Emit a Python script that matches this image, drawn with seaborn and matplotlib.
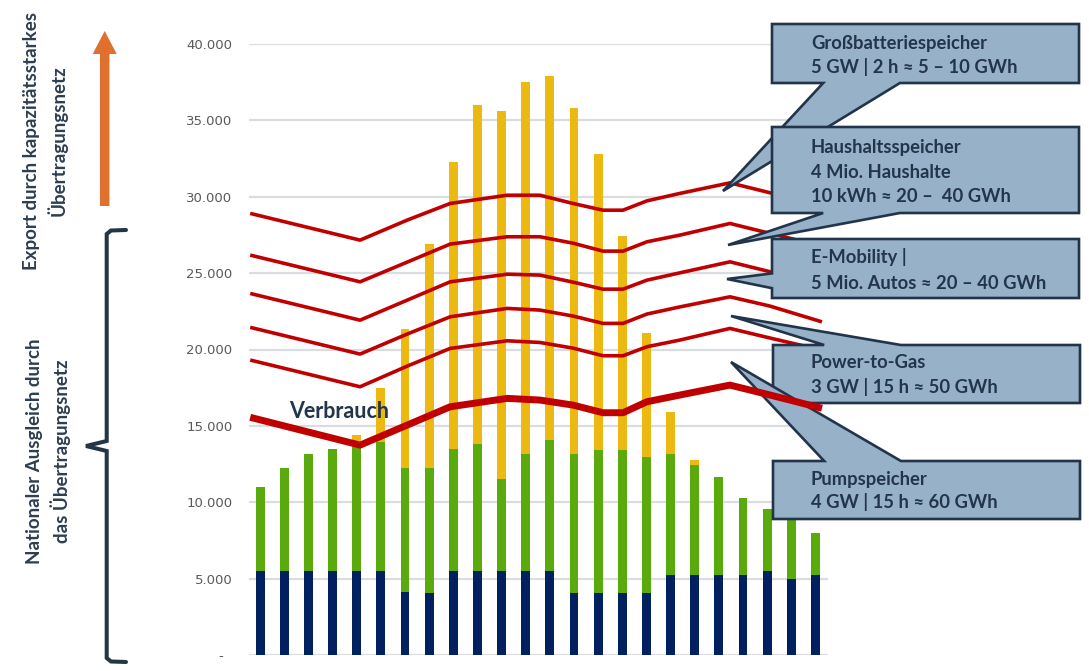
import numpy as np
import pandas as pd
import matplotlib
matplotlib.use("Agg")
import matplotlib.pyplot as plt
from matplotlib.patches import Polygon, FancyArrow
from matplotlib.lines import Line2D
from matplotlib.transforms import Affine2D
from matplotlib.ticker import FixedLocator, FuncFormatter
import seaborn as sns

# ---------------------------------------------------------------- data (MW)
hours = list(range(24))
grundlast = [5500, 5500, 5500, 5500, 5500, 5500, 4100, 4050, 5500, 5500, 5500, 5500,
             5500, 4050, 4050, 4050, 4050, 5250, 5250, 5250, 5250, 5500, 4950, 5250]
wind = [5470, 6720, 7650, 7980, 8100, 8450, 8120, 8170, 7960, 8290, 6020, 7650,
        8570, 9100, 9370, 9370, 8930, 7900, 7180, 6400, 5040, 4050, 4050, 2710]
pv = [0, 0, 0, 0, 800, 3500, 9120, 14680, 18790, 22210, 24100, 24370,
      23820, 22630, 19410, 14000, 8110, 2770, 330, 0, 0, 0, 0, 0]

# load curve and the stacked storage levels above it (hour positions of the points)
line_hours = [-0.41, 4.14, 6.09, 7.87, 10.23, 11.59, 12.96, 14.20, 15.03, 16.02,
              17.39, 19.46, 21.12, 23.27]
verbrauch = [15560, 13740, 15050, 16250, 16800, 16690, 16360, 15860, 15860, 16580,
             17020, 17670, 17020, 16150]
plus_pumpspeicher = [19310, 17560, 18910, 20070, 20570, 20460, 20090, 19590, 19590,
                     20180, 20620, 21380, 20750, 19960]
plus_power_to_gas = [21450, 19700, 21010, 22140, 22690, 22580, 22190, 21710, 21710,
                     22320, 22790, 23450, 22840, 21810]
plus_e_mobility = [23670, 21920, 23230, 24430, 24930, 24870, 24410, 23950, 23950,
                   24540, 25020, 25740, 25090, 24280]
plus_haushaltsspeicher = [26180, 24430, 25720, 26900, 27380, 27380, 26960, 26440, 26440,
                          27050, 27490, 28250, 27600, 26770]
plus_grossbatterie = [28910, 27160, 28470, 29560, 30100, 30100, 29560, 29120, 29120,
                      29730, 30220, 30910, 30260, 29450]

y_ticks = [0, 5000, 10000, 15000, 20000, 25000, 30000, 35000, 40000]

callout_lines = [
    ["Großbatteriespeicher", "5 GW | 2 h ≈ 5 – 10 GWh"],
    ["Haushaltsspeicher", "4 Mio. Haushalte", "10 kWh ≈ 20 –  40 GWh"],
    ["E-Mobility |", "5 Mio. Autos ≈ 20 – 40 GWh"],
    ["Power-to-Gas", "3 GW | 15 h ≈ 50 GWh"],
    ["Pumpspeicher", "4 GW | 15 h ≈ 60 GWh"],
]

side_label_top = ["Export durch kapazitätsstarkes", "Übertragungsnetz"]
side_label_bottom = ["Nationaler Ausgleich durch", "das Übertragungsnetz"]

# ---------------------------------------------------------------- style
NAVY = "#002060"
GREEN = "#5BAA0D"
YELLOW = "#ECB812"
RED = "#C00000"
SLATE = "#23354A"
BOX_FILL = "#97B1C8"
BOX_EDGE = "#22344A"

sns.set_theme(style="white")
plt.rcParams["font.family"] = ["Lato", "DejaVu Sans"]

W, H = 1089, 671
fig = plt.figure(figsize=(W / 100, H / 100), dpi=100)
fig.patch.set_facecolor("white")
# pixel coordinates, origin at the top-left corner
px = Affine2D().scale(1 / W, -1 / H).translate(0, 1) + fig.transFigure

ax = fig.add_axes([249 / W, (H - 655) / H, 579 / W, 611 / H])
ax.set_facecolor("white")

df = pd.DataFrame({"Stunde": hours, "Grundlast": grundlast, "Wind": wind, "PV": pv})
df["bis_Wind"] = df["Grundlast"] + df["Wind"]
df["bis_PV"] = df["bis_Wind"] + df["PV"]

for col, colr in [("bis_PV", YELLOW), ("bis_Wind", GREEN), ("Grundlast", NAVY)]:
    sns.barplot(data=df, x="Stunde", y=col, color=colr, width=0.37, saturation=1,
                linewidth=0, errorbar=None, ax=ax, zorder=2)

for series in [plus_pumpspeicher, plus_power_to_gas, plus_e_mobility,
               plus_haushaltsspeicher, plus_grossbatterie]:
    sns.lineplot(x=line_hours, y=series, color=RED, linewidth=2.6, sort=False,
                 ax=ax, zorder=3, solid_capstyle="butt")
sns.lineplot(x=line_hours, y=verbrauch, color=RED, linewidth=5.0, sort=False,
             ax=ax, zorder=6, solid_capstyle="butt")

ax.set_xlim(-0.46, 23.52)
ax.set_ylim(0, 40000)
ax.yaxis.set_major_locator(FixedLocator(y_ticks))
ax.yaxis.set_major_formatter(FuncFormatter(
    lambda v, _: "-  " if v == 0 else f"{v:,.0f}".replace(",", ".")))
ax.set_xticks([])
ax.set_xlabel("")
ax.set_ylabel("")
ax.tick_params(axis="y", length=0, pad=12, labelsize=9.5, labelcolor="#595959")
for lab in ax.get_yticklabels():
    lab.set_fontfamily("DejaVu Sans")
ax.grid(axis="y", color="#D9DDE2", linewidth=1.6)
ax.grid(axis="x", visible=False)
ax.set_axisbelow(True)
sns.despine(ax=ax, left=True, bottom=True)

ax.text(289, 418, "Verbrauch", transform=px, fontsize=15.5, fontweight="bold",
        color=SLATE, va="baseline", ha="left", zorder=7)


# ---------------------------------------------------------------- callouts
def callout(x0, y0, x1, y1, side, tip):
    w, h = x1 - x0, y1 - y0
    if side == "bottom":
        b1, b2 = x0 + w * 2 / 12, x0 + w * 5 / 12
        pts = [(x0, y0), (x1, y0), (x1, y1), (b2, y1), tip, (b1, y1), (x0, y1)]
    elif side == "top":
        b1, b2 = x0 + w * 2 / 12, x0 + w * 5 / 12
        pts = [(x0, y0), (b1, y0), tip, (b2, y0), (x1, y0), (x1, y1), (x0, y1)]
    else:
        b1, b2 = y0 + h * 7 / 12, y0 + h * 10 / 12
        pts = [(x0, y0), (x1, y0), (x1, y1), (x0, y1), (x0, b2), tip, (x0, b1)]
    return pts


boxes = [
    (772, 24, 1079, 83, "bottom", (723, 191), [49, 73]),
    (772, 127, 1079, 213, "bottom", (728, 245), [153, 178, 202]),
    (772, 239, 1079, 298, "left", (727, 279), [263, 289]),
    (773, 345, 1080, 403, "top", (731, 316), [368, 393]),
    (773, 461, 1080, 519, "top", (731, 362), [485, 508]),
]
for k, ((x0, y0, x1, y1, side, tip, baselines), lines) in enumerate(zip(boxes, callout_lines)):
    poly = Polygon(callout(x0, y0, x1, y1, side, tip), closed=True, transform=px,
                   facecolor=BOX_FILL, edgecolor=BOX_EDGE, linewidth=1.9,
                   joinstyle="miter", clip_on=False, zorder=4 + k * 0.1)
    ax.add_patch(poly)
    for txt, yb in zip(lines, baselines):
        ax.text(811, yb, txt, transform=px, fontsize=13.2, fontweight="bold",
                color=SLATE, va="baseline", ha="left", zorder=4.05 + k * 0.1,
                clip_on=False)

# ---------------------------------------------------------------- left annotations
fig.add_artist(FancyArrow(104.7, 206, 0, -175, width=9.5, head_width=24,
                          head_length=23, length_includes_head=True,
                          transform=px, color="#E0702E", linewidth=0))

bracket = [(126, 230), (111, 230.5), (106.7, 234), (106.7, 441), (86, 446),
           (106.7, 451), (106.7, 658), (111, 661.5), (126, 662)]
bx, by = zip(*bracket)
fig.add_artist(Line2D(bx, by, transform=px, color="#243546", linewidth=2.9,
                      solid_joinstyle="miter"))

for (xc, yc, lines) in [(31.7, 141, side_label_top), (35, 451, side_label_bottom)]:
    for i, txt in enumerate(lines):
        fig.text(xc + i * 26, yc, txt, transform=px, rotation=90, fontsize=13.5,
                 fontweight="bold", color="#2D3E50", ha="center", va="center")

fig.savefig("out.png", dpi=100)
